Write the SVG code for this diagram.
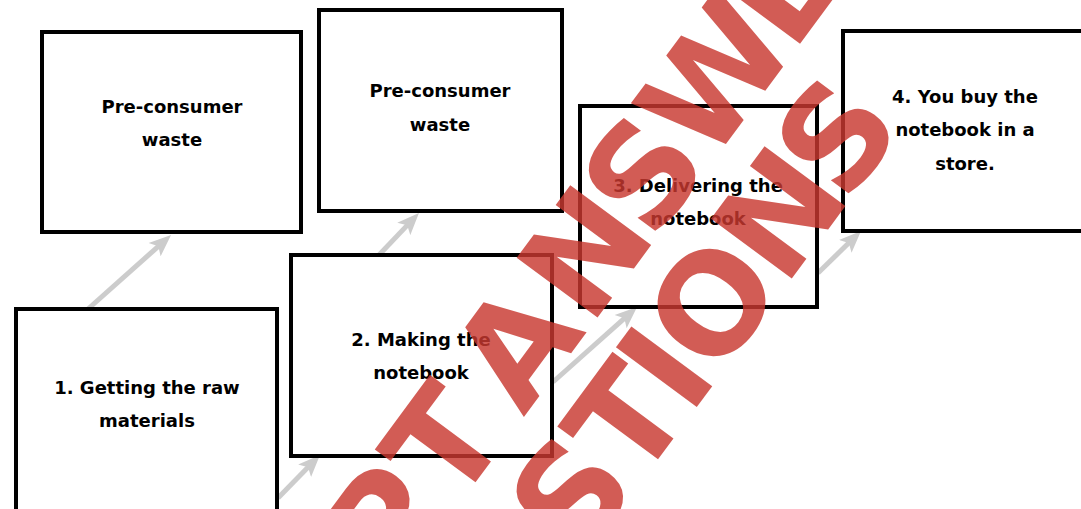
<svg xmlns="http://www.w3.org/2000/svg" width="1081" height="509" viewBox="0 0 1081 509">
<style>
.box{fill:#fff;stroke:#000;stroke-width:4}
.lbl{font-family:"DejaVu Sans",sans-serif;font-weight:bold;font-size:18px;fill:#000;text-anchor:middle}
.arr{stroke:#cccccc;stroke-width:5;fill:none;marker-end:url(#ah)}
.wm{font-family:"DejaVu Sans",sans-serif;font-weight:bold;font-size:138px;fill:#c8382f;fill-opacity:0.82;text-anchor:middle}
</style>
<defs>
<marker id="ah" markerUnits="userSpaceOnUse" viewBox="0 0 22 20" markerWidth="22" markerHeight="20" refX="8" refY="10" orient="auto">
<path d="M0,1 L22,10 L0,19 L5,10 Z" fill="#cccccc"/>
</marker>
</defs>
<rect width="1081" height="509" fill="#fff"/>
<g id="connectors">
<line class="arr" x1="88" y1="309" x2="160.6" y2="244.3"/>
<line class="arr" x1="379" y1="255" x2="409.3" y2="223.1"/>
<line class="arr" x1="278" y1="498" x2="310.2" y2="465"/>
<line class="arr" x1="553" y1="382" x2="626.6" y2="316.3"/>
<line class="arr" x1="818" y1="273" x2="851" y2="240.8"/>
</g>
<g id="waste1">
<rect class="box" x="42" y="32" width="259" height="200"/>
<text class="lbl" x="172" y="113">Pre-consumer</text>
<text class="lbl" x="172" y="146">waste</text>
</g>
<g id="waste2">
<rect class="box" x="319" y="10" width="243" height="201"/>
<text class="lbl" x="440" y="97">Pre-consumer</text>
<text class="lbl" x="440" y="131">waste</text>
</g>
<g id="step1">
<rect class="box" x="16" y="309" width="261" height="206"/>
<text class="lbl" x="147" y="394">1. Getting the raw</text>
<text class="lbl" x="147" y="427">materials</text>
</g>
<g id="step2">
<rect class="box" x="291" y="255" width="261" height="201"/>
<text class="lbl" x="421" y="346">2. Making the</text>
<text class="lbl" x="421" y="379">notebook</text>
</g>
<g id="step3">
<rect class="box" x="580" y="106" width="237" height="201"/>
<text class="lbl" x="698" y="192">3. Delivering the</text>
<text class="lbl" x="698" y="225">notebook</text>
</g>
<g id="step4">
<rect class="box" x="843" y="31" width="245" height="200"/>
<text class="lbl" x="965" y="103">4. You buy the</text>
<text class="lbl" x="965" y="136">notebook in a</text>
<text class="lbl" x="965" y="170">store.</text>
</g>
<g id="watermark" transform="translate(711,302) rotate(-53.5)">
<text class="wm" y="-82" x="-770 -670 -570 -470 -372 -272 -212 -151 -35 63 184 295 400 500">ACCEPT ANSWERS</text>
<text class="wm" y="51" x="-530 -430 -330 -238 -145 -80 0 112 208">QUESTIONS</text>
</g>
</svg>
